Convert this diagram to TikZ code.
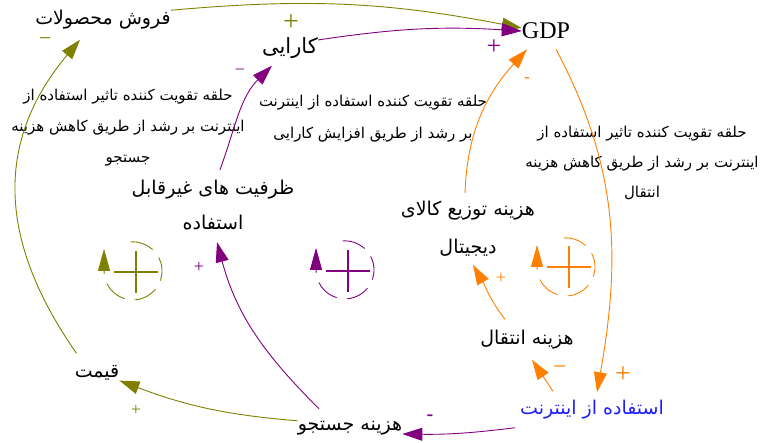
\documentclass[tikz,border=0pt]{standalone}
\usepackage{fontspec}
\usetikzlibrary{arrows.meta}
\TeXXeTstate=1
\newfontfamily\farsi[Script=Arabic]{DejaVu Sans}
\newfontfamily\latin{Liberation Serif}
\newcommand{\fa}[1]{{\farsi\beginR #1\endR}}
\definecolor{olivec}{RGB}{128,128,0}
\definecolor{purplec}{RGB}{128,0,128}
\definecolor{orangec}{RGB}{255,128,0}
\definecolor{bluec}{RGB}{30,30,255}

\begin{document}
\begin{tikzpicture}[x=1pt,y=1pt,
    var/.style={inner sep=0pt,align=center,font=\fontsize{19}{35}\selectfont},
    note/.style={inner sep=0pt,align=center,font=\fontsize{15}{31}\selectfont},
    link/.style={-{Triangle[length=20pt,width=13pt]},line width=0.9pt},
    sign/.style={inner sep=0pt,font=\fontsize{18}{18}\latin}]
  \useasboundingbox (0,0) rectangle (764,443);
  \node[var] (sales) at (103,423) {\fa{فروش محصولات}};
  \node[var,font=\fontsize{21}{21}\selectfont] (eff) at (290,395) {\fa{کارایی}};
  \node[var,font=\fontsize{24}{24}\latin] (gdp) at (546,412) {GDP};
  \node[var] (cap) at (213,238) {\fa{ظرفیت های غیرقابل}\\\fa{استفاده}};
  \node[var,font=\fontsize{19}{38}\selectfont] (dist) at (468,214) {\fa{هزینه توزیع کالای}\\\fa{دیجیتال}};
  \node[var] (trans) at (527,103) {\fa{هزینه انتقال}};
  \node[var,text=bluec] (net) at (592,33) {\fa{استفاده از اینترنت}};
  \node[var] (search) at (350,15) {\fa{هزینه جستجو}};
  \node[var] (price) at (97,70) {\fa{قیمت}};
  % loop notes
  \node[note] (noteA) at (128,315) {\fa{حلقه تقویت کننده تاثیر استفاده از}\\\fa{اینترنت بر رشد از طریق کاهش هزینه}\\\fa{جستجو}};
  \node[note,font=\fontsize{15}{32}\selectfont] (noteB) at (373,324) {\fa{حلقه تقویت کننده استفاده از اینترنت}\\\fa{بر رشد از طریق افزایش کارایی}};
  \node[note,font=\fontsize{15}{30}\selectfont] (noteC) at (642,280) {\fa{حلقه تقویت کننده تاثیر استفاده از}\\\fa{اینترنت بر رشد از طریق کاهش هزینه}\\\fa{انتقال}};
  % links
  \draw[link,olivec] (sales.north east) to[bend left=8] ([yshift=3pt]gdp.west);
  \draw[link,purplec] ([yshift=8pt]eff.east) to[bend left=6] (gdp.west);
  \draw[link,olivec] ([shift={(2pt,12pt)}]price.north west) to[out=125,in=230,looseness=1.1] ([shift={(-23pt,-10pt)}]sales.south);
  \draw[link,olivec] (search.north west) to[bend left=8] (price.south east);
  \draw[link,purplec] ([shift={(-31pt,12pt)}]search.north) to[out=135,in=285] ([shift={(4pt,-12pt)}]cap.south);
  \draw[link,purplec] ([shift={(7pt,10pt)}]cap.north) to[out=70,in=225] ([shift={(10pt,-7pt)}]eff.south west);
  \draw[link,purplec] ([shift={(-5pt,-8pt)}]net.south west) to[bend left=4] ([yshift=-6pt]search.east);
  \draw[link,orangec] ([shift={(-39pt,9pt)}]net.north) -- ([shift={(5pt,-10pt)}]trans.south);
  \draw[link,orangec] ([shift={(10pt,-10pt)}]gdp.south) to[out=-62,in=80] ([shift={(5pt,8pt)}]net.north);
  \draw[link,orangec] ([shift={(-22pt,11pt)}]trans.north) to[out=128,in=300] ([shift={(5pt,-8pt)}]dist.south);
  \draw[link,orangec] ([shift={(-3pt,8pt)}]dist.north) to[out=88,in=228] ([shift={(-19pt,-10pt)}]gdp.south);
  % polarities
  \node[sign,olivec,font=\fontsize{22}{22}\latin] (sA) at (45,401) {−};
  \node[sign,olivec,font=\fontsize{28}{28}\latin] (sB) at (291,420) {+};
  \node[sign,purplec] (sC) at (240,371) {−};
  \node[sign,purplec,font=\fontsize{26}{26}\latin] (sD) at (494,396) {+};
  \node[sign,orangec] (sE) at (527,363) {-};
  \node[sign,orangec] (sF) at (501,165) {+};
  \node[sign,orangec,font=\fontsize{24}{24}\latin] (sG) at (560,73) {−};
  \node[sign,orangec,font=\fontsize{28}{28}\latin] (sH) at (623,68) {+};
  \node[sign,purplec] (sI) at (199,176) {+};
  \node[sign,olivec] (sJ) at (136,33) {+};
  \node[sign,purplec,font=\fontsize{20}{20}\latin\bfseries] (sK) at (430,25) {-};
  % loop symbols
  \draw[olivec,line width=2.6pt] (114,171) -- (158,171) (136,150) -- (136,192);
  \draw[olivec,line width=0.9pt,dash pattern=on 24pt off 10pt,-{Triangle[length=22pt,width=12pt]}] (130.5,201) arc[start angle=95,end angle=-180,radius=29] -- ++(0,22);
  \draw[purplec,line width=2.6pt] (326,172) -- (370,172) (348,151) -- (348,193);
  \draw[purplec,line width=0.9pt,dash pattern=on 24pt off 10pt,-{Triangle[length=22pt,width=12pt]}] (342.5,202) arc[start angle=95,end angle=-180,radius=29] -- ++(0,22);
  \draw[orangec,line width=2.6pt] (547,176) -- (591,176) (569,155) -- (569,197);
  \draw[orangec,line width=0.9pt,dash pattern=on 24pt off 10pt,-{Triangle[length=22pt,width=12pt]}] (563.5,205) arc[start angle=95,end angle=-180,radius=29] -- ++(0,22);
\end{tikzpicture}
\end{document}
